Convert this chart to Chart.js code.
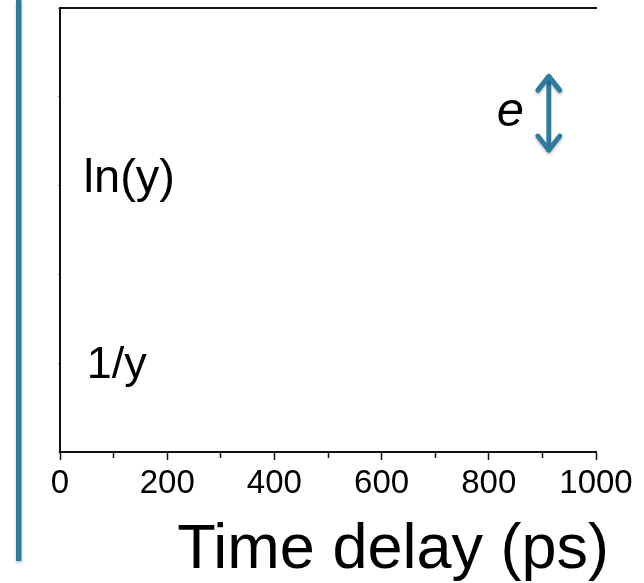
<!DOCTYPE html>
<html>
<head>
<meta charset="utf-8">
<script src="https://cdn.jsdelivr.net/npm/chart.js@4.4.1/dist/chart.umd.min.js"></script>
<style>
  html, body { margin: 0; padding: 0; background: #fff; }
  #wrap { width: 644px; height: 583px; }
</style>
</head>
<body>
<div id="wrap"><canvas id="chart" width="644" height="583"></canvas></div>
<script>
// Axis ranges and annotations
const xRange = [0, 1000];
const xMajorStep = 200;
const xMinorStep = 100;
const yRange = [0, 5];
const annotationTexts = ['ln(y)', '1/y', 'e'];
const annotationX = [44, 50, 815];
const annotationY = [2.93, 0.83, 3.67];
const arrowX = [912, 912];
const arrowY = [3.40, 4.23];
const xTitle = 'Time delay (ps)';

const BLUE = '#2e7ba0';
const FONT = '"Liberation Sans", Arial, Helvetica, sans-serif';

// Draws the left bar, text labels, arrow heads and axis title
const decorations = {
  id: 'decorations',
  afterDraw(chart) {
    const { ctx, chartArea, scales } = chart;
    const xs = scales.x, ys = scales.y;

    // blue vertical bar at the far left
    ctx.save();
    ctx.shadowColor = 'rgba(0,0,0,0.25)';
    ctx.shadowBlur = 3;
    ctx.shadowOffsetY = 2;
    ctx.fillStyle = BLUE;
    ctx.fillRect(16, 0, 5.5, 561);
    ctx.restore();

    // text annotations inside the plot
    ctx.save();
    ctx.fillStyle = '#000';
    ctx.textBaseline = 'alphabetic';
    ctx.textAlign = 'left';
    annotationTexts.forEach((t, i) => {
      ctx.font = t === 'e' ? 'italic 49px ' + FONT : (t === '1/y' ? '45px ' : '47px ') + FONT;
      ctx.fillText(t, xs.getPixelForValue(annotationX[i]), ys.getPixelForValue(annotationY[i]));
    });
    ctx.restore();

    // arrow heads on the double arrow
    const meta = chart.getDatasetMeta(0);
    ctx.save();
    ctx.strokeStyle = BLUE;
    ctx.lineWidth = 5;
    ctx.lineCap = 'round';
    ctx.lineJoin = 'round';
    ctx.shadowColor = 'rgba(0,0,0,0.25)';
    ctx.shadowBlur = 3;
    ctx.shadowOffsetY = 2;
    meta.data.forEach((pt, i) => {
      const dir = arrowY[i] > arrowY[1 - i] ? 1 : -1; // 1 = head points up
      ctx.beginPath();
      ctx.moveTo(pt.x - 11, pt.y + dir * 14);
      ctx.lineTo(pt.x, pt.y);
      ctx.lineTo(pt.x + 11, pt.y + dir * 14);
      ctx.stroke();
    });
    ctx.restore();

    // x axis title
    ctx.save();
    ctx.fillStyle = '#000';
    ctx.font = '63px ' + FONT;
    ctx.textAlign = 'right';
    ctx.textBaseline = 'alphabetic';
    ctx.fillText(xTitle, chartArea.right + 13, 568);
    ctx.restore();
  }
};

new Chart(document.getElementById('chart'), {
  type: 'scatter',
  data: {
    datasets: [{
      label: 'e',
      data: arrowX.map((x, i) => ({ x: x, y: arrowY[i] })),
      showLine: true,
      borderColor: BLUE,
      borderWidth: 5,
      pointRadius: 0,
      borderCapStyle: 'round'
    }]
  },
  options: {
    responsive: false,
    animation: false,
    layout: { padding: { left: 0, right: 48, top: 0, bottom: 0 } },
    plugins: { legend: { display: false }, tooltip: { enabled: false } },
    scales: {
      x: {
        type: 'linear',
        position: 'bottom',
        min: xRange[0],
        max: xRange[1],
        afterFit: s => { s.height = 131; },
        ticks: {
          stepSize: xMinorStep,
          padding: 4,
          color: '#000',
          font: { family: FONT, size: 33 },
          maxRotation: 0,
          autoSkip: false,
          callback: v => (v % xMajorStep === 0 ? String(v) : '')
        },
        grid: {
          drawOnChartArea: false,
          tickLength: 8,
          tickWidth: 1.5,
          tickColor: '#111',
          tickBorderDash: c => (c.tick && c.tick.value % xMajorStep !== 0 ? [5, 20] : [])
        },
        border: { display: true, color: '#111', width: 2 }
      },
      xTop: {
        type: 'linear',
        position: 'top',
        min: xRange[0],
        max: xRange[1],
        afterFit: s => { s.height = 8; },
        ticks: { display: false },
        grid: { display: false, drawTicks: false },
        border: { display: true, color: '#111', width: 2 }
      },
      y: {
        type: 'linear',
        min: yRange[0],
        max: yRange[1],
        afterFit: s => { s.width = 60; },
        ticks: { display: false, stepSize: 1 },
        grid: { drawOnChartArea: false, tickLength: 2, tickColor: '#888', tickWidth: 1 },
        border: { display: true, color: '#111', width: 2 }
      }
    }
  },
  plugins: [decorations]
});
</script>
</body>
</html>
